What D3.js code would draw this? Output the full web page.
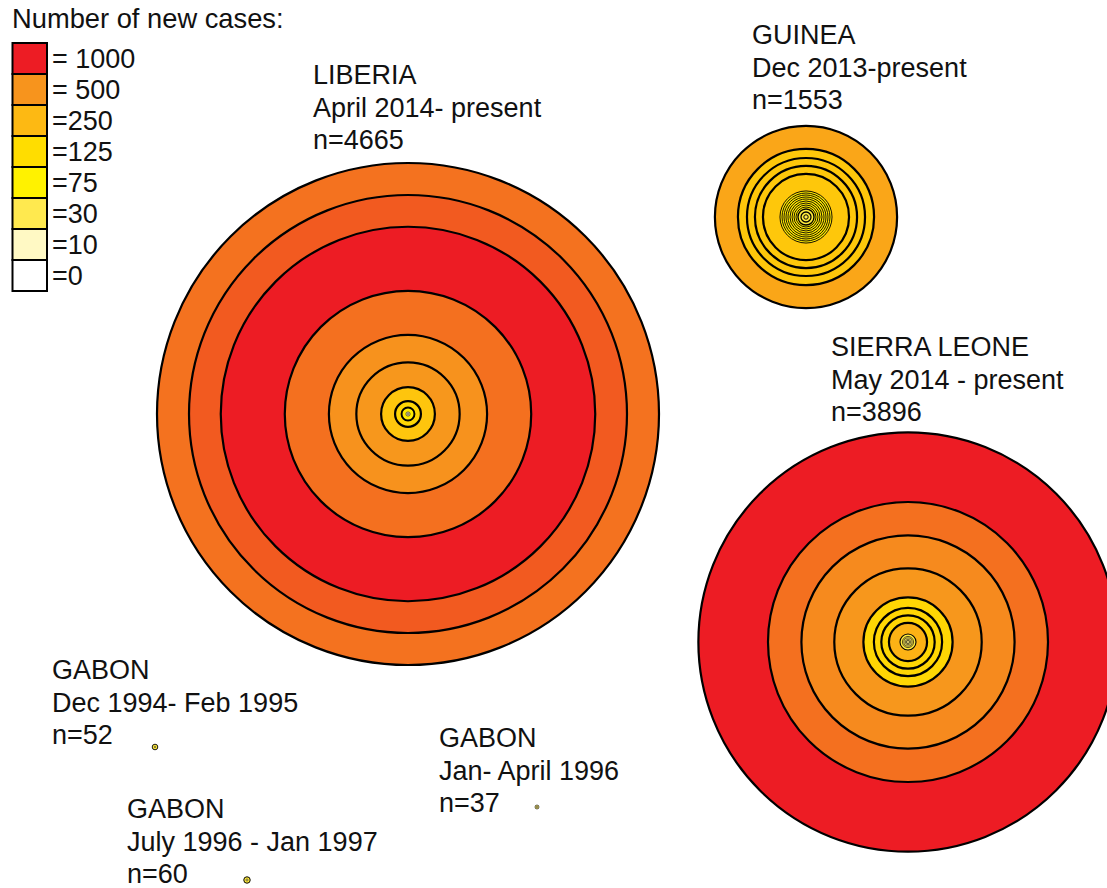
<!DOCTYPE html>
<html>
<head>
<meta charset="utf-8">
<script src="https://cdn.jsdelivr.net/npm/d3@7"></script>
<style>
body { margin: 0; background: #fff; }
text { font-family: "Liberation Sans", Arial, sans-serif; fill: #111; }
</style>
</head>
<body>
<div id="d3area"></div>
<script>
// legend classes (new cases per period)
var legendValues = [1000, 500, 250, 125, 75, 30, 10, 0];
var legendLabels = ["= 1000", "= 500", "=250", "=125", "=75", "=30", "=10", "=0"];
var legendColors = ["#ED1C24", "#F7941D", "#FDB913", "#FFDD00", "#FFF200", "#FFE94F", "#FFF9C4", "#FFFFFF"];

// outbreaks
var outbreakNames = ["LIBERIA", "GUINEA", "SIERRA LEONE", "GABON", "GABON", "GABON"];
var outbreakPeriods = ["April 2014- present", "Dec 2013-present", "May 2014 - present",
	"Dec 1994- Feb 1995", "Jan- April 1996", "July 1996 - Jan 1997"];
var outbreakN = [4665, 1553, 3896, 52, 37, 60];

// cumulative cases at the outer edge of each ring (inner -> outer)
var liberiaTotals = [20, 40, 120, 240, 500, 960, 1470, 2290, 3480, 4070, 4665];
var guineaTotals = [41, 93, 149, 186, 223, 260, 298, 335, 372, 409, 446, 484, 800, 949, 1097, 1265, 1693];
var sierraTotals = [28, 50, 75, 103, 149, 354, 496, 634, 829, 1370, 1981, 2602, 3896];
var gabon94Totals = [15, 52];
var gabon96aTotals = [12, 37];
var gabon96bTotals = [20, 60];

// new cases in each ring's period (inner -> outer)
var liberiaNew = [8, 12, 90, 150, 210, 480, 510, 650, 1200, 740, 640];
var guineaNew = [30, 40, 40, 100, 100, 100, 100, 100, 100, 100, 100, 100, 200, 200, 200, 200, 380];
var sierraNew = [20, 25, 25, 30, 40, 300, 150, 150, 150, 480, 540, 650, 1300];
var gabon94New = [20, 40];
var gabon96aNew = [12, 25];
var gabon96bNew = [20, 40];

var svgSize = {w: 1107, h: 888};

// layout: circle centres and label anchors
var layout = [
	{cx: 408, cy: 414, lx: 313, ly: 84},
	{cx: 806, cy: 217, lx: 752, ly: 44},
	{cx: 908, cy: 642, lx: 831, ly: 356},
	{cx: 155, cy: 747, lx: 52, ly: 679},
	{cx: 537, cy: 807, lx: 439, ly: 747},
	{cx: 247, cy: 880, lx: 127, ly: 818}
];
var lineGap = 32.5;

var totalsList = [liberiaTotals, guineaTotals, sierraTotals, gabon94Totals, gabon96aTotals, gabon96bTotals];
var newList = [liberiaNew, guineaNew, sierraNew, gabon94New, gabon96aNew, gabon96bNew];

var svg = d3.select("#d3area").append("svg")
	.attr("width", svgSize.w)
	.attr("height", svgSize.h);

var rScale = d3.scaleLinear().domain([0, 4665]).range([0, 251]);
var colorScale = d3.scaleLinear()
	.domain(legendValues.slice().reverse())
	.range(legendColors.slice().reverse())
	.clamp(true);

// concentric rings, drawn outer first
totalsList.forEach(function(totals, k) {
	var rings = totals.map(function(t, i) {
		var inner = i === 0 ? 0 : totals[i - 1];
		return {r: rScale(t), w: rScale(t) - rScale(inner), v: newList[k][i]};
	}).reverse();

	svg.append("g")
		.attr("transform", "translate(" + layout[k].cx + "," + layout[k].cy + ")")
		.selectAll("circle")
		.data(rings)
		.join("circle")
		.attr("r", function(d) { return d.r; })
		.style("fill", function(d) { return colorScale(d.v); })
		.style("stroke", "#000")
		.style("stroke-width", function(d) { return Math.min(2.2, Math.max(0.5, d.w * 0.45)); });
});

// outbreak labels
outbreakNames.forEach(function(name, k) {
	var lines = [name, outbreakPeriods[k], "n=" + outbreakN[k]];
	svg.append("g").selectAll("text")
		.data(lines)
		.join("text")
		.attr("x", layout[k].lx)
		.attr("y", function(d, i) { return layout[k].ly + i * lineGap; })
		.style("font-size", "27px")
		.text(function(d) { return d; });
});

// legend
var legend = svg.append("g");
legend.append("text")
	.attr("x", 12)
	.attr("y", 28)
	.style("font-size", "27.3px")
	.text("Number of new cases:");

var boxH = 31;
legend.selectAll("rect")
	.data(legendValues)
	.join("rect")
	.attr("x", 12.5)
	.attr("y", function(d, i) { return 43 + i * boxH; })
	.attr("width", 34.5)
	.attr("height", boxH)
	.style("fill", function(d) { return colorScale(d); })
	.style("stroke", "#000")
	.style("stroke-width", 2);

legend.selectAll("text.lab")
	.data(legendLabels)
	.join("text")
	.attr("class", "lab")
	.attr("x", 52)
	.attr("y", function(d, i) { return 43 + i * boxH + boxH / 2 + 9.5; })
	.style("font-size", "27px")
	.text(function(d) { return d; });
</script>
</body>
</html>
